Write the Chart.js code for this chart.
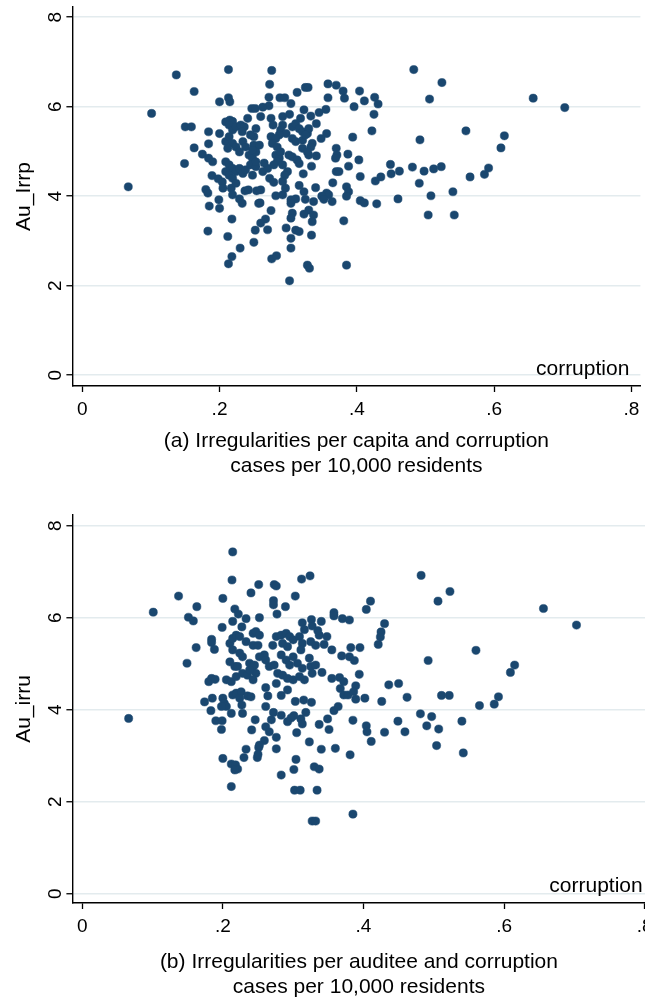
<!DOCTYPE html>
<html>
<head>
<meta charset="utf-8">
<script src="https://cdn.jsdelivr.net/npm/chart.js@4.4.0/dist/chart.umd.min.js"></script>
<style>
html, body { margin: 0; padding: 0; background: #fff; overflow: hidden; }
.panel { position: absolute; left: 0; }
#wrapA { top: 0; width: 645px; height: 480px; }
#wrapB { top: 480px; width: 650px; height: 525px; }
</style>
</head>
<body>
<div id="wrapA" class="panel"><canvas id="chartA"></canvas></div>
<div id="wrapB" class="panel"><canvas id="chartB"></canvas></div>
<script>
// corruption cases per 10,000 residents (x) vs. log irregularities (y)
const xTicks = [0, 0.2, 0.4, 0.6, 0.8];
const xTickLabels = ['0', '.2', '.4', '.6', '.8'];
const yTicks = [0, 2, 4, 6, 8];
const yTickLabels = ['0', '2', '4', '6', '8'];
const xTitle = 'corruption';

// panel (a) Au_Irrp
const corrA = [
  0.067, 0.101, 0.137, 0.163, 0.150, 0.159, 0.149, 0.163, 0.175, 0.184,
  0.184, 0.200, 0.200, 0.213, 0.213, 0.215, 0.184, 0.190, 0.189, 0.198,
  0.204, 0.205, 0.180, 0.183, 0.199, 0.185, 0.200, 0.217, 0.219, 0.229,
  0.233, 0.237, 0.242, 0.254, 0.257, 0.218, 0.183, 0.212, 0.252, 0.250,
  0.230, 0.218, 0.213, 0.247, 0.252, 0.241, 0.215, 0.219, 0.209, 0.214,
  0.219, 0.224, 0.231, 0.236, 0.233, 0.253, 0.250, 0.245, 0.209, 0.214,
  0.219, 0.212, 0.224, 0.229, 0.234, 0.238, 0.243, 0.248, 0.253, 0.209,
  0.214, 0.219, 0.224, 0.209, 0.214, 0.229, 0.234, 0.238, 0.245, 0.253,
  0.219, 0.224, 0.276, 0.273, 0.325, 0.329, 0.313, 0.358, 0.370, 0.380,
  0.382, 0.404, 0.358, 0.411, 0.426, 0.431, 0.396, 0.483, 0.524, 0.506,
  0.425, 0.422, 0.355, 0.345, 0.333, 0.323, 0.304, 0.302, 0.272, 0.272,
  0.288, 0.295, 0.263, 0.260, 0.275, 0.278, 0.292, 0.318, 0.341, 0.356,
  0.348, 0.394, 0.492, 0.292, 0.289, 0.297, 0.287, 0.306, 0.311, 0.316,
  0.321, 0.328, 0.330, 0.306, 0.311, 0.321, 0.325, 0.335, 0.333, 0.250,
  0.258, 0.248, 0.275, 0.282, 0.277, 0.284, 0.370, 0.371, 0.369, 0.387,
  0.403, 0.388, 0.370, 0.374, 0.405, 0.365, 0.341, 0.334, 0.322, 0.449,
  0.450, 0.462, 0.481, 0.498, 0.512, 0.523, 0.435, 0.427, 0.491, 0.508,
  0.504, 0.460, 0.429, 0.405, 0.411, 0.385, 0.388, 0.385, 0.381, 0.385,
  0.356, 0.359, 0.349, 0.352, 0.364, 0.340, 0.337, 0.325, 0.330, 0.323,
  0.337, 0.335, 0.334, 0.328, 0.331, 0.302, 0.304, 0.304, 0.297, 0.306,
  0.304, 0.311, 0.316, 0.304, 0.311, 0.304, 0.292, 0.282, 0.296, 0.316,
  0.259, 0.275, 0.267, 0.260, 0.270, 0.276, 0.283, 0.260, 0.273, 0.279,
  0.299, 0.295, 0.292, 0.263, 0.270, 0.265, 0.282, 0.287, 0.284, 0.289,
  0.279, 0.292, 0.301, 0.306, 0.313, 0.316, 0.330, 0.321, 0.328, 0.253,
  0.248, 0.323, 0.657, 0.703, 0.559, 0.615, 0.610, 0.565, 0.586, 0.592,
  0.540, 0.542
];
const irrpA = [
  4.21, 5.85, 6.71, 6.34, 5.55, 5.55, 4.73, 5.08, 4.94, 5.44,
  5.17, 5.40, 6.11, 6.83, 6.20, 6.11, 4.85, 4.77, 4.46, 4.39,
  4.32, 4.18, 4.15, 4.07, 3.92, 3.78, 3.73, 4.18, 4.03, 3.94,
  3.84, 4.12, 4.14, 4.12, 3.84, 3.49, 3.22, 3.10, 3.24, 2.97,
  2.84, 2.65, 2.49, 5.96, 5.96, 5.74, 5.70, 5.67, 5.66, 5.59,
  5.48, 5.55, 5.59, 5.55, 5.44, 5.51, 5.33, 5.37, 5.22, 5.33,
  5.18, 5.07, 5.10, 4.99, 5.22, 5.10, 4.92, 4.85, 4.99, 4.77,
  4.70, 4.62, 4.55, 4.55, 4.47, 4.62, 4.51, 4.59, 4.70, 4.66,
  4.40, 4.29, 6.81, 6.50, 6.43, 6.43, 6.32, 6.51, 6.48, 6.35,
  6.19, 6.35, 6.20, 6.13, 6.21, 6.06, 6.00, 6.83, 6.54, 6.17,
  5.83, 5.46, 5.94, 5.87, 5.79, 5.93, 6.07, 5.83, 6.21, 6.02,
  6.20, 6.20, 5.99, 5.78, 5.74, 5.59, 5.78, 5.74, 5.62, 5.40,
  5.29, 5.32, 5.26, 5.59, 5.48, 5.40, 5.37, 5.55, 5.62, 5.51,
  5.44, 5.40, 5.51, 5.29, 5.22, 5.25, 5.37, 5.18, 5.10, 5.14,
  5.14, 5.03, 5.33, 5.29, 5.18, 5.10, 5.07, 4.92, 4.85, 4.94,
  4.81, 4.67, 4.55, 4.55, 4.44, 4.30, 4.90, 4.67, 4.50, 4.71,
  4.50, 4.56, 4.65, 4.56, 4.61, 4.66, 4.43, 4.34, 4.29, 4.01,
  3.58, 3.94, 3.83, 3.90, 3.85, 4.21, 4.10, 4.00, 3.45, 2.46,
  4.07, 4.03, 4.00, 3.93, 3.88, 4.19, 3.88, 3.93, 3.69, 3.60,
  3.58, 3.43, 3.13, 2.46, 2.39, 2.11, 3.06, 2.84, 3.29, 3.62,
  3.51, 3.24, 3.21, 3.92, 3.94, 3.84, 4.03, 4.01, 4.18, 4.24,
  3.85, 3.68, 3.49, 3.40, 3.25, 2.60, 2.67, 4.14, 4.40, 4.31,
  4.55, 4.47, 4.33, 4.55, 4.62, 4.74, 4.92, 4.85, 4.77, 4.99,
  4.70, 4.70, 4.92, 4.88, 4.81, 4.73, 4.92, 5.07, 4.99, 4.77,
  4.47, 4.10, 6.19, 5.98, 5.46, 5.35, 5.08, 4.43, 4.49, 4.63,
  4.10, 3.58
];

// panel (b) Au_irru
const corrB = [
  0.214, 0.213, 0.251, 0.240, 0.200, 0.137, 0.101, 0.163, 0.151, 0.158,
  0.217, 0.222, 0.233, 0.214, 0.227, 0.199, 0.184, 0.184, 0.188, 0.162,
  0.149, 0.066, 0.210, 0.214, 0.219, 0.224, 0.233, 0.243, 0.247, 0.214,
  0.224, 0.228, 0.210, 0.217, 0.221, 0.238, 0.243, 0.247, 0.205, 0.212,
  0.219, 0.228, 0.235, 0.243, 0.184, 0.180, 0.189, 0.174, 0.185, 0.183,
  0.200, 0.202, 0.205, 0.198, 0.214, 0.219, 0.226, 0.224, 0.235, 0.227,
  0.212, 0.228, 0.190, 0.199, 0.198, 0.246, 0.241, 0.251, 0.233, 0.230,
  0.200, 0.249, 0.212, 0.218, 0.221, 0.217, 0.212, 0.312, 0.324, 0.273,
  0.276, 0.303, 0.272, 0.272, 0.289, 0.277, 0.252, 0.358, 0.358, 0.370,
  0.380, 0.404, 0.410, 0.430, 0.425, 0.424, 0.421, 0.482, 0.506, 0.523,
  0.492, 0.340, 0.326, 0.313, 0.316, 0.327, 0.337, 0.348, 0.335, 0.382,
  0.395, 0.369, 0.380, 0.387, 0.355, 0.341, 0.355, 0.366, 0.372, 0.394,
  0.367, 0.372, 0.378, 0.389, 0.386, 0.389, 0.402, 0.436, 0.450, 0.462,
  0.426, 0.511, 0.522, 0.481, 0.497, 0.490, 0.507, 0.504, 0.449, 0.459,
  0.430, 0.404, 0.405, 0.411, 0.385, 0.381, 0.385, 0.327, 0.332, 0.334,
  0.302, 0.310, 0.283, 0.301, 0.304, 0.330, 0.337, 0.323, 0.340, 0.360,
  0.337, 0.351, 0.349, 0.358, 0.364, 0.252, 0.243, 0.250, 0.259, 0.252,
  0.245, 0.238, 0.276, 0.283, 0.290, 0.295, 0.300, 0.285, 0.292, 0.271,
  0.309, 0.313, 0.325, 0.332, 0.344, 0.311, 0.283, 0.290, 0.300, 0.295,
  0.306, 0.313, 0.323, 0.325, 0.332, 0.266, 0.273, 0.261, 0.278, 0.285,
  0.292, 0.300, 0.276, 0.327, 0.316, 0.309, 0.292, 0.261, 0.264, 0.283,
  0.240, 0.261, 0.315, 0.326, 0.303, 0.318, 0.301, 0.297, 0.292, 0.311,
  0.313, 0.305, 0.283, 0.272, 0.269, 0.261, 0.266, 0.276, 0.276, 0.259,
  0.252, 0.250, 0.656, 0.703, 0.560, 0.615, 0.609, 0.565, 0.586, 0.592,
  0.540, 0.542
];
const irruB = [
  7.43, 6.82, 6.72, 6.54, 6.42, 6.47, 6.12, 6.24, 6.01, 5.93,
  6.19, 6.08, 5.98, 5.92, 5.80, 5.79, 5.53, 5.46, 5.31, 5.35,
  5.01, 3.81, 5.44, 5.55, 5.62, 5.59, 5.48, 5.66, 5.70, 5.30,
  5.23, 5.15, 5.04, 4.94, 4.94, 5.01, 4.94, 4.79, 4.65, 4.61,
  4.72, 4.79, 4.75, 4.65, 4.68, 4.61, 4.66, 4.17, 4.25, 3.98,
  4.25, 4.14, 4.07, 4.07, 4.32, 4.36, 4.39, 4.25, 4.30, 4.10,
  3.92, 3.92, 3.76, 3.76, 3.57, 3.78, 3.56, 3.18, 3.14, 2.96,
  2.94, 2.96, 2.82, 2.80, 2.71, 2.69, 2.33, 6.84, 6.91, 6.72,
  6.69, 6.47, 6.37, 6.28, 6.24, 6.08, 6.00, 6.11, 6.04, 5.98,
  5.95, 6.18, 6.36, 5.87, 5.69, 5.58, 5.42, 6.92, 6.36, 6.57,
  5.07, 5.92, 5.96, 5.89, 5.74, 5.82, 5.62, 5.59, 5.72, 5.35,
  5.35, 5.17, 5.15, 5.07, 5.30, 4.81, 4.68, 4.70, 4.61, 4.77,
  4.46, 4.32, 4.32, 4.52, 4.39, 4.23, 4.25, 4.54, 4.57, 4.27,
  4.18, 4.31, 4.31, 3.91, 3.85, 3.65, 3.58, 3.22, 3.75, 3.52,
  3.51, 3.65, 3.52, 3.31, 3.77, 3.02, 1.73, 1.58, 1.58, 2.25,
  2.25, 2.25, 2.58, 2.70, 2.92, 2.76, 2.71, 3.30, 3.14, 3.16,
  3.68, 3.57, 3.80, 3.98, 4.07, 5.62, 5.40, 5.40, 5.19, 5.15,
  4.97, 4.86, 5.59, 5.62, 5.66, 5.59, 5.52, 5.44, 5.37, 5.40,
  5.59, 5.44, 5.48, 5.40, 5.42, 5.30, 5.19, 5.08, 5.15, 4.97,
  5.01, 4.90, 5.12, 4.94, 4.97, 4.94, 4.97, 5.08, 4.79, 4.75,
  4.68, 4.65, 4.57, 4.79, 4.65, 4.72, 4.43, 4.48, 4.30, 4.31,
  4.28, 4.07, 4.21, 4.16, 4.18, 3.94, 3.87, 3.82, 3.74, 3.80,
  3.69, 3.50, 3.88, 3.94, 3.78, 3.63, 3.52, 3.40, 3.15, 3.33,
  3.23, 3.03, 6.20, 5.84, 5.29, 4.97, 4.81, 4.09, 4.12, 4.28,
  3.75, 3.06
];

const FONT = '"Liberation Sans", Arial, Helvetica, sans-serif';
const dotColor = '#1a476f';
const gridColor = '#e3ebee';

// "corruption" sits inside the plot, bottom right (Stata style)
const cornerLabel = {
  id: 'cornerLabel',
  afterDatasetsDraw(chart) {
    const { ctx, chartArea, scales } = chart;
    ctx.save();
    ctx.font = '21px ' + FONT;
    ctx.fillStyle = '#000';
    ctx.textAlign = 'right';
    ctx.textBaseline = 'middle';
    ctx.fillText(xTitle, scales.x.getPixelForValue(0.8) - 2, chartArea.bottom - 17);
    ctx.restore();
  }
};

function makePanel(id, xs, ys, o) {
  const pts = xs.map((x, i) => ({ x: x, y: ys[i] }));
  return new Chart(document.getElementById(id), {
    type: 'scatter',
    data: {
      datasets: [{
        data: pts,
        backgroundColor: dotColor,
        borderColor: dotColor,
        borderWidth: 0.5,
        pointRadius: 4.1,
        pointHoverRadius: 4.1
      }]
    },
    options: {
      animation: false,
      responsive: true,
      maintainAspectRatio: false,
      events: [],
      layout: { padding: { top: o.top, right: o.right, left: 0, bottom: 0 } },
      plugins: {
        legend: { display: false },
        tooltip: { enabled: false },
        title: {
          display: true,
          position: 'bottom',
          fullSize: false,
          text: o.caption,
          color: '#000',
          font: { family: FONT, size: 21, weight: 'normal', lineHeight: 25 / 21 },
          padding: { top: 0, bottom: o.capPad }
        }
      },
      scales: {
        x: {
          type: 'linear',
          min: o.xmin,
          max: o.xmax,
          afterBuildTicks: s => { s.ticks = xTicks.map(v => ({ value: v })); },
          // fixed axis height, and let the last label hang over the edge
          afterFit: s => { s.height = o.xh; s.paddingLeft = 0; s.paddingRight = 0; },
          grid: { display: true, drawOnChartArea: false, drawTicks: true, tickLength: 6, tickColor: '#000', tickWidth: 1.3 },
          border: { display: true, color: '#000', width: 1.4 },
          ticks: {
            autoSkip: false, maxRotation: 0, padding: 6, color: '#000',
            font: { family: FONT, size: 19 },
            callback: (v, i) => xTickLabels[i]
          }
        },
        y: {
          type: 'linear',
          min: o.ymin,
          max: o.ymax,
          afterBuildTicks: s => { s.ticks = yTicks.map(v => ({ value: v })); },
          afterFit: s => { s.width = 72.4; s.paddingTop = 0; s.paddingBottom = 0; },
          grid: { color: gridColor, lineWidth: 1.5, drawTicks: true, tickLength: 6, tickColor: '#000', tickWidth: 1.3 },
          border: { display: true, color: '#000', width: 1.4 },
          ticks: {
            autoSkip: false, minRotation: 90, maxRotation: 90, crossAlign: 'center', padding: 5, color: '#000',
            font: { family: FONT, size: 19 },
            callback: (v, i) => yTickLabels[i]
          },
          title: {
            display: true, text: o.ytitle, color: '#000',
            font: { family: FONT, size: 21 },
            padding: { top: 12, bottom: 0 }
          }
        }
      }
    },
    plugins: [cornerLabel]
  });
}

makePanel('chartA', corrA, irrpA, {
  top: 7, right: 2, xh: 43, capPad: 1,
  xmin: -0.0144, xmax: 0.8132, ymin: -0.241, ymax: 8.228,
  ytitle: 'Au_Irrp',
  caption: ['(a) Irregularities per capita and corruption', 'cases per 10,000 residents']
});

makePanel('chartB', corrB, irruB, {
  top: 35, right: 3, xh: 46.5, capPad: 5.5,
  xmin: -0.0140, xmax: 0.8010, ymin: -0.202, ymax: 8.233,
  ytitle: 'Au_irru',
  caption: ['(b) Irregularities per auditee and corruption', 'cases per 10,000 residents']
});
</script>
</body>
</html>
